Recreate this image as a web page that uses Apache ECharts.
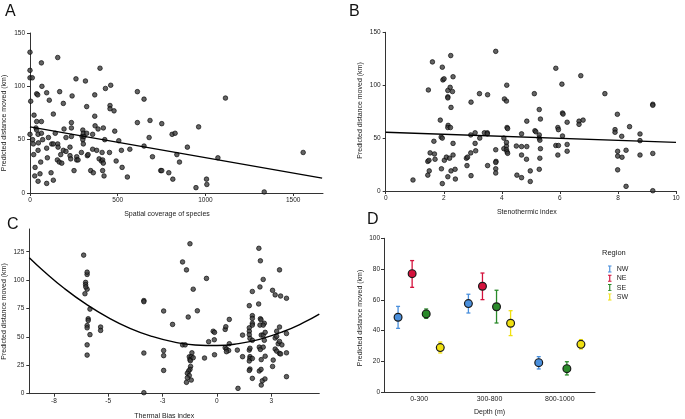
<!DOCTYPE html>
<html><head><meta charset="utf-8">
<script src="https://cdn.jsdelivr.net/npm/echarts@6/dist/echarts.min.js"></script>
<style>html,body{margin:0;padding:0;background:#fff}#c{width:685px;height:419px}</style>
</head><body><div id="c"></div>
<script>
// ---------- Panel A: spatial coverage ----------
const aX = [0,0,0,13,4,0,15,19,23,21,29,27,38,44,38,34,38,46,48,46,46,57,61,65,68,65,65,72,95,95,99,95,105,110,120,124,133,133,133,144,158,158,160,156,167,169,175,181,190,194,190,205,205,228,228,232,240,236,236,236,251,262,266,266,274,293,297,301,304,301,304,308,316,323,327,331,323,346,357,357,361,369,369,371,380,388,394,399,407,411,414,418,414,418,426,422,430,453,456,456,460,479,483,491,506,521,525,555,569,612,612,650,650,684,679,698,745,751,751,791,810,827,814,837,852,897,946,961,1006,1008,1071,1114,1335,1557];
const aY = [132,115,108,108,86,55,50,46,73,36,24,16,93,92,67,61,59,55,47,40,11,18,29,122,100,67,56,50,94,42,33,9,52,87,19,46,74,46,12,56,127,46,43,31,29,95,36,28,84,60,40,52,39,43,35,32,91,66,61,53,21,107,34,31,31,38,53,59,56,50,46,53,105,81,35,36,56,21,55,41,19,92,72,63,40,60,32,117,30,38,21,61,31,28,50,16,98,38,82,79,101,77,58,30,49,40,24,15,41,95,66,88,44,68,52,34,21,21,65,19,55,56,13,36,29,43,5,62,13,8,33,89,1,38];
const aLineX = [0, 1665];
const aLineY = [62, 14];
const aTicks = [0, 500, 1000, 1500];

// ---------- Panel B: stenothermic index ----------
const bX = [0.94,1.47,1.61,1.53,1.45,1.49,1.45,1.5,1.66,1.68,1.70,1.88,1.91,1.95,1.92,1.95,1.95,1.97,2.01,2.02,2.09,2.14,2.14,2.14,2.14,2.15,2.14,2.2,2.22,2.23,2.24,2.25,2.25,2.30,2.32,2.32,2.32,2.39,2.40,2.78,2.82,2.8,2.94,2.93,2.93,2.94,3.08,3.08,3.1,3.23,3.24,3.4,3.51,3.5,3.5,3.51,3.79,3.79,3.8,3.79,3.79,3.79,4.09,4.16,4.17,4.07,4.07,4.16,4.16,4.18,4.2,4.18,4.2,4.16,4.5,4.52,4.68,4.68,4.68,4.68,4.86,4.86,4.85,4.98,4.98,5.12,5.14,5.17,5.29,5.29,5.29,5.31,5.33,5.31,5.29,5.33,5.86,5.93,5.95,5.86,5.95,5.93,6.07,6.09,6.11,6.09,6.25,6.25,6.25,6.72,6.66,6.66,6.8,7.55,7.98,7.9,7.9,7.99,7.99,7.99,8.13,8.14,8.28,8.28,8.4,8.76,8.76,8.76,9.2,9.2,9.2,9.2];
const bY = [10.4,95.5,122,36,28,29,15,19,47,35,30,67,51,50,21,7,117,105,106,29,32,13.5,95,89,88,62,60,31,98,60,128,79,19,94,108,45,34,20.5,11.3,31,32,24,84,53,36,14.5,55,45,38,92,50,55,91,55,54,24,132,39,28,27,21,17,87,85,100,50,40,42.5,39,37,35.6,60,59,46,42.5,15,54,42,34,12.6,66,42,30,19,9,92,57,56,77,53,50,48,40,31,20.5,68,116,60,58,43,43,34,101,73.7,72.7,52,65,44,37.6,109,66,63,67,92,72.5,58,55.5,37.5,33,20,51.7,31.9,38.5,4.4,60.8,53.9,47.6,34,82,81,35.5,0.3];
const bLineX = [0, 10];
const bLineY = [55.5, 46];

// ---------- Panel C: thermal bias index ----------
const cX = [-6.13,-6.04,-6.04,-5.97,-5.97,-5.97,-6.03,-6.07,-5.84,-5.92,-5.92,-5.97,-5.97,-5.84,-5.97,-5.97,-5.35,-5.35,-3.36,-3.36,-3.36,-3.36,-2.45,-2.45,-2.45,-2.45,-2.04,-1.58,-1.4,-1.58,-1.46,-1.24,-1.32,-1.09,-0.9,-1.15,-1.27,-1.18,-1.24,-1.22,-1.21,-1.24,-1.3,-1.36,-1.27,-1.36,-1.18,-1.4,-1.09,-0.57,-0.48,-0.38,-0.17,-0.11,-0.12,-0.11,0.38,0.41,0.57,0.38,0.44,0.54,0.57,0.44,0.94,0.97,1.18,1.18,1.49,1.49,1.49,1.49,1.52,1.49,1.52,1.52,1.52,1.49,1.52,1.49,1.63,1.63,1.63,1.63,1.63,1.63,1.63,1.63,1.93,2.0,1.98,1.92,2.0,2.03,1.98,2.04,1.95,2.0,1.95,2.03,2.04,2.04,2.09,2.13,2.18,2.13,2.18,2.13,2.13,2.22,2.22,2.21,2.56,2.68,2.93,2.88,2.56,2.59,2.68,2.75,2.68,2.75,2.75,2.88,2.82,2.88,2.88,2.93,2.99,3.2,3.2,3.2,3.2];
const cY = [122,98,96,105,107,92,94,88,74.5,66,64.5,60,58,52,43,34,58.7,55.7,82,81,35.8,0.9,72.8,38,33.5,20.5,61,116,109,43,43,132,67.5,92,73,36,32.5,32.5,30,29,24,21.4,20,18,16,14,12,10,31.7,31.4,101.5,45.8,55,54,47.5,34.3,56.6,59,65.4,40.5,39.3,38,44,37,38.4,4.7,51.6,32.6,77.5,58,55,52,48.7,38.4,40,32.6,31,28.8,21.7,20.5,90,68.7,66.3,62,60.4,47,31,13.5,128,117,94,79,66,65,60.4,51.6,41,39,20,21.4,30,7.6,11.4,100.6,62,60.4,47,41,51.6,54,33,13,91,87,86,109,24,29.6,39.3,37.5,49,50.5,55,58.7,44,46,35.5,35,43,84,53,36,15];
const cCurveX = [-8.63,-8,-7,-6,-5,-4,-3,-2,-1,0,1,2,3,4,4.71];
const cCurveY = [119.7,108.5,92.4,78.6,67.0,57.6,50.5,45.6,42.9,42.4,44.1,48.1,54.3,62.7,70.0];
const cTickVals = [-7.5,-5,-2.5,0,2.5];
const cTickLabels = ['-8','-5','-3','0','3'];
const cYTicks = [0,25,50,75,100,125];

// ---------- Panel D: depth x region ----------
const depthCats = ['0-300','300-800','800-1000'];
const regions = ['NW','NE','SE','SW'];
const regionColors = ['#4a8fdc','#d4123c','#2a8a2a','#f0e010'];
const nwMean = [48.6,57.5,19.1], nwLow = [41.4,51.4,15.0], nwHigh = [55.7,63.6,23.0];
const neMean = [77.0,68.8,null], neLow = [68.1,60.1,null], neHigh = [85.5,77.4,null];
const seMean = [50.8,55.5,15.2], seLow = [47.9,44.9,11.1], seHigh = [54.0,66.2,19.7];
const swMean = [28.9,44.7,31.0], swLow = [25.4,36.7,28.0], swHigh = [32.5,52.9,34.1];
const dMeans = [nwMean, neMean, seMean, swMean];
const dLows = [nwLow, neLow, seLow, swLow];
const dHighs = [nwHigh, neHigh, seHigh, swHigh];

const FONT = 'Liberation Sans, Arial, sans-serif';
const TXT = '#222';
const axisLineStyle = {onZero:false, lineStyle:{color:'#333', width:1}};
const tickStyle = {length:3, lineStyle:{color:'#333'}};
const pts = (xs, ys) => xs.map((x,i)=>[x, ys[i]]);
const scatterStyle = {symbolSize:4.6, itemStyle:{color:'#3c3c3c', borderColor:'#000', borderWidth:0.8}};
const nameStyle = (pad) => ({fontSize:7, color:TXT, fontFamily:FONT, padding:pad});
const plain = (v) => String(v);

const chart = echarts.init(document.getElementById('c'), null, {renderer:'canvas'});

const series = [
  Object.assign({type:'scatter', xAxisIndex:0, yAxisIndex:0, data:pts(aX,aY)}, scatterStyle),
  {type:'line', xAxisIndex:0, yAxisIndex:0, data:pts(aLineX,aLineY), showSymbol:false, lineStyle:{color:'#000', width:1.4}},
  Object.assign({type:'scatter', xAxisIndex:1, yAxisIndex:1, data:pts(bX,bY)}, scatterStyle),
  {type:'line', xAxisIndex:1, yAxisIndex:1, data:pts(bLineX,bLineY), showSymbol:false, lineStyle:{color:'#000', width:1.4}},
  Object.assign({type:'scatter', xAxisIndex:2, yAxisIndex:2, data:pts(cX,cY)}, scatterStyle),
  {type:'line', xAxisIndex:2, yAxisIndex:2, data:pts(cCurveX,cCurveY), smooth:true, showSymbol:false, lineStyle:{color:'#000', width:1.4}}
];

regions.forEach((r, ri) => {
  const data = [];
  depthCats.forEach((c, ci) => {
    if (dMeans[ri][ci] != null) data.push([ci, dMeans[ri][ci], dLows[ri][ci], dHighs[ri][ci]]);
  });
  const col = regionColors[ri];
  series.push({
    type:'custom', name:r, xAxisIndex:3, yAxisIndex:3,
    itemStyle:{color:col},
    encode:{x:0, y:[1,2,3]},
    data:data,
    renderItem:(params, api) => {
      const ci = api.value(0);
      const bw = api.size([1,0])[0];
      const off = (ri - 1.5) * bw * 0.2;
      const pm = api.coord([ci, api.value(1)]);
      const pl = api.coord([ci, api.value(2)]);
      const ph = api.coord([ci, api.value(3)]);
      const x = pm[0] + off;
      return {type:'group', children:[
        {type:'line', shape:{x1:x, y1:pl[1], x2:x, y2:ph[1]}, style:{stroke:col, lineWidth:1.3}},
        {type:'line', shape:{x1:x-2, y1:pl[1], x2:x+2, y2:pl[1]}, style:{stroke:col, lineWidth:1.3}},
        {type:'line', shape:{x1:x-2, y1:ph[1], x2:x+2, y2:ph[1]}, style:{stroke:col, lineWidth:1.3}},
        {type:'circle', shape:{cx:x, cy:pm[1], r:3.9}, style:{fill:col, stroke:'#1a1a1a', lineWidth:1.2}}
      ]};
    }
  });
});

const labelBase = {fontSize:6.5, color:TXT, fontFamily:FONT};

const option = {
  animation:false,
  backgroundColor:'#fff',
  textStyle:{fontFamily:FONT},
  grid:[
    {left:30, top:33, width:293, height:160, outerBoundsMode:'none'},
    {left:385.7, top:32.3, width:290.3, height:158.7, outerBoundsMode:'none'},
    {left:29.3, top:229, width:290, height:164.7, outerBoundsMode:'none'},
    {left:384, top:238.3, width:211, height:153.7, outerBoundsMode:'none'}
  ],
  xAxis:[
    {gridIndex:0, type:'value', min:0, max:1670, axisLine:axisLineStyle, splitLine:{show:false},
     axisTick:Object.assign({customValues:aTicks}, tickStyle),
     axisLabel:Object.assign({customValues:aTicks, margin:4, formatter:plain}, labelBase),
     name:'Spatial coverage of species', nameLocation:'middle', nameGap:18, nameTextStyle:nameStyle([0,19,0,0])},
    {gridIndex:1, type:'value', min:0, max:10, interval:2, axisLine:axisLineStyle, splitLine:{show:false},
     axisTick:tickStyle, axisLabel:Object.assign({margin:4, formatter:plain}, labelBase),
     name:'Stenothermic index', nameLocation:'middle', nameGap:18, nameTextStyle:nameStyle([0,8,0,0])},
    {gridIndex:2, type:'value', min:-8.63, max:4.71, axisLine:axisLineStyle, splitLine:{show:false},
     axisTick:Object.assign({customValues:cTickVals}, tickStyle),
     axisLabel:Object.assign({customValues:cTickVals, margin:4,
       formatter:(v)=>{const i=cTickVals.findIndex(t=>Math.abs(t-v)<1e-6); return i>=0?cTickLabels[i]:'';}}, labelBase),
     name:'Thermal Bias index', nameLocation:'middle', nameGap:19, nameTextStyle:nameStyle([0,20,0,0])},
    {gridIndex:3, type:'category', data:depthCats, axisLine:axisLineStyle, axisTick:{show:false},
     axisLabel:{fontSize:7, color:TXT, fontFamily:FONT, margin:4},
     name:'Depth (m)', nameLocation:'middle', nameGap:17, nameTextStyle:nameStyle([0,0,0,0])}
  ],
  yAxis:[
    {gridIndex:0, type:'value', min:0, max:150, interval:50, axisLine:Object.assign({show:true}, axisLineStyle),
     axisTick:Object.assign({show:true}, tickStyle), splitLine:{show:false}, axisLabel:Object.assign({margin:5}, labelBase)},
    {gridIndex:1, type:'value', min:0, max:150, interval:50, axisLine:Object.assign({show:true}, axisLineStyle),
     axisTick:Object.assign({show:true}, tickStyle), splitLine:{show:false}, axisLabel:Object.assign({margin:5}, labelBase)},
    {gridIndex:2, type:'value', min:0, max:145, axisLine:Object.assign({show:true}, axisLineStyle),
     axisTick:Object.assign({show:true, customValues:cYTicks}, tickStyle), splitLine:{show:false},
     axisLabel:Object.assign({margin:5, customValues:cYTicks}, labelBase)},
    {gridIndex:3, type:'value', min:0, max:100, interval:20, axisLine:Object.assign({show:true}, axisLineStyle),
     axisTick:Object.assign({show:true}, tickStyle), splitLine:{show:false}, axisLabel:Object.assign({margin:4}, labelBase)}
  ],
  legend:{
    data:regions, orient:'vertical', left:603, top:260.5, itemWidth:4, itemHeight:7, itemGap:2.3,
    icon:'path://M0,0h6v1.6h-2v8.8h2v1.6h-6v-1.6h2v-8.8h-2z', selectedMode:false,
    textStyle:{fontSize:7, color:TXT, fontFamily:FONT, lineHeight:7}
  },
  graphic:[
    {type:'text', x:5, y:4, style:{text:'A', fontSize:16, fill:'#111', fontFamily:FONT}},
    {type:'text', x:349, y:4, style:{text:'B', fontSize:16, fill:'#111', fontFamily:FONT}},
    {type:'text', x:7, y:217, style:{text:'C', fontSize:16, fill:'#111', fontFamily:FONT}},
    {type:'text', x:367, y:212, style:{text:'D', fontSize:16, fill:'#111', fontFamily:FONT}},
    {type:'text', x:4, y:123, rotation:Math.PI/2, style:{text:'Predicted distance moved (km)', fontSize:7, fill:TXT, fontFamily:FONT, align:'center', verticalAlign:'middle'}},
    {type:'text', x:360.5, y:110.5, rotation:Math.PI/2, style:{text:'Predicted distance moved (km)', fontSize:7, fill:TXT, fontFamily:FONT, align:'center', verticalAlign:'middle'}},
    {type:'text', x:4, y:311.5, rotation:Math.PI/2, style:{text:'Predicted distance moved (km)', fontSize:7, fill:TXT, fontFamily:FONT, align:'center', verticalAlign:'middle'}},
    {type:'text', x:360.5, y:318, rotation:Math.PI/2, style:{text:'Predicted distance moved (km)', fontSize:7, fill:TXT, fontFamily:FONT, align:'center', verticalAlign:'middle'}},
    {type:'text', x:602, y:252.7, style:{text:'Region', fontSize:7.5, fill:TXT, fontFamily:FONT, verticalAlign:'middle'}}
  ],
  series:series
};
chart.setOption(option);
</script>
</body></html>
